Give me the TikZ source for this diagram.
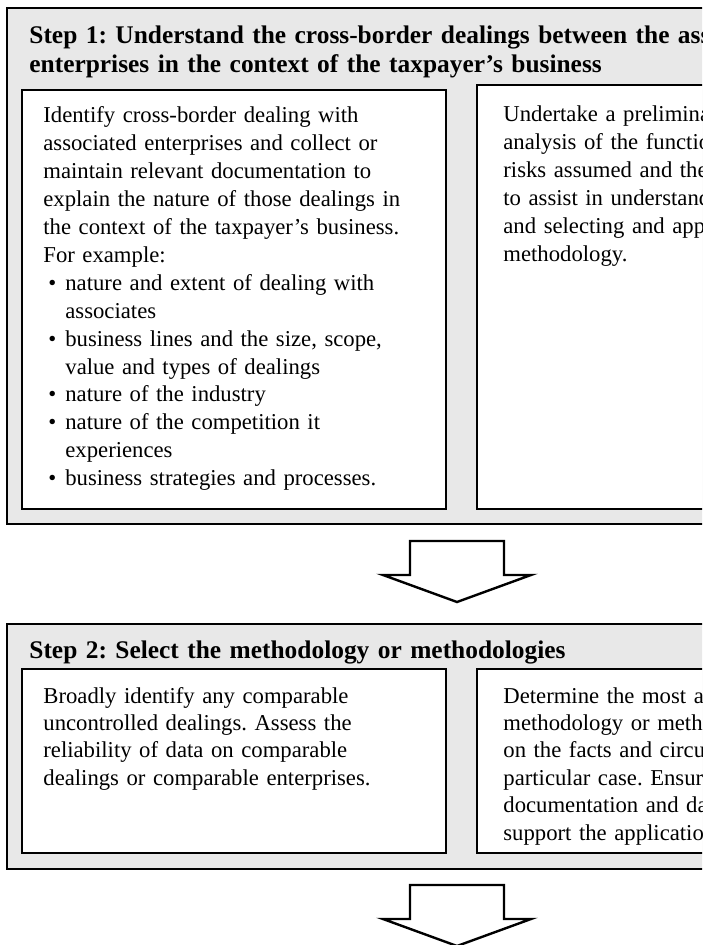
\documentclass[tikz,border=0pt]{standalone}
\usepackage{fontspec}
\setmainfont{Liberation Serif}
\usetikzlibrary{calc}
\usepackage{xcolor}
\definecolor{stepgray}{RGB}{232,232,232}
\newcommand{\itembul}{\makebox[11pt][l]{\hspace{2.5pt}\textbullet}}
\newcommand{\itemgap}{\hspace*{11pt}}
\frenchspacing

\begin{document}
\begin{tikzpicture}[x=0.5pt, y=-0.5pt,
        every node/.style={inner sep=0pt},
        stepbox/.style={draw, fill=stepgray, line width=1pt, anchor=north west},
        cellbox/.style={draw, fill=white, line width=1.2pt, anchor=north west},
        steptitle/.style={anchor=base west, text width=440pt, align=left,
            font=\bfseries\fontsize{12.7}{14.5}\selectfont},
        celltext/.style={anchor=base west, text width=250pt, align=left,
            font=\fontsize{11.35}{13.95}\selectfont},
        downarrow/.style={draw, fill=white, line width=1.2pt, line join=miter}]
        % Page frame (the right side of the chart is cut off)
        \useasboundingbox (0,0) rectangle (702,945);
        \clip (0,0) rectangle (702,945);

        % Step 1
        \node[stepbox, minimum width=450pt, minimum height=258pt] (step1) at (6,7) {};
        \node[steptitle] (title1) at (29,44)
            {Step 1: Understand the cross-border dealings between the associated\\
             enterprises in the context of the taxpayer’s business};
        \node[cellbox, minimum width=212pt, minimum height=209.5pt] (cell1a) at (21,89) {};
        \node[cellbox, minimum width=200pt, minimum height=212pt] (cell1b) at (476,84) {};
        \node[celltext] (text1a) at (43,123)
            {Identify cross-border dealing with\\
             associated enterprises and collect or\\
             maintain relevant documentation to\\
             explain the nature of those dealings in\\
             the context of the taxpayer’s business.\\
             For example:\\
             \itembul nature and extent of dealing with\\
             \itemgap associates\\
             \itembul business lines and the size, scope,\\
             \itemgap value and types of dealings\\
             \itembul nature of the industry\\
             \itembul nature of the competition it\\
             \itemgap experiences\\
             \itembul business strategies and processes.};
        \node[celltext] (text1b) at (503,122)
            {Undertake a preliminary\\
             analysis of the functions\\
             risks assumed and the\\
             to assist in understanding\\
             and selecting and applying\\
             methodology.};

        % Arrow from step 1 to step 2
        \draw[downarrow] ($(step1.south)+(-47,16)$) -- ++(94,0) -- ++(0,34)
            -- ++(27,0) -- ++(-74,27) -- ++(-74,-27) -- ++(27,0) -- cycle;

        % Step 2
        \node[stepbox, minimum width=450pt, minimum height=122.5pt] (step2) at (6,623) {};
        \node[steptitle] (title2) at (29,658)
            {Step 2: Select the methodology or methodologies};
        \node[cellbox, minimum width=212pt, minimum height=92pt] (cell2a) at (21,668) {};
        \node[cellbox, minimum width=200pt, minimum height=92pt] (cell2b) at (476,668) {};
        \node[celltext, font=\fontsize{11.35}{13.7}\selectfont] (text2a) at (43,703)
            {Broadly identify any comparable\\
             uncontrolled dealings. Assess the\\
             reliability of data on comparable\\
             dealings or comparable enterprises.};
        \node[celltext, font=\fontsize{11.35}{13.7}\selectfont] (text2b) at (503,703)
            {Determine the most appropriate\\
             methodology or methodologies\\
             on the facts and circumstances\\
             particular case. Ensure\\
             documentation and data\\
             support the application};

        % Arrow from step 2 onwards
        \draw[downarrow] ($(step2.south)+(-47,15)$) -- ++(94,0) -- ++(0,34)
            -- ++(27,0) -- ++(-74,27) -- ++(-74,-27) -- ++(27,0) -- cycle;
\end{tikzpicture}
\end{document}
